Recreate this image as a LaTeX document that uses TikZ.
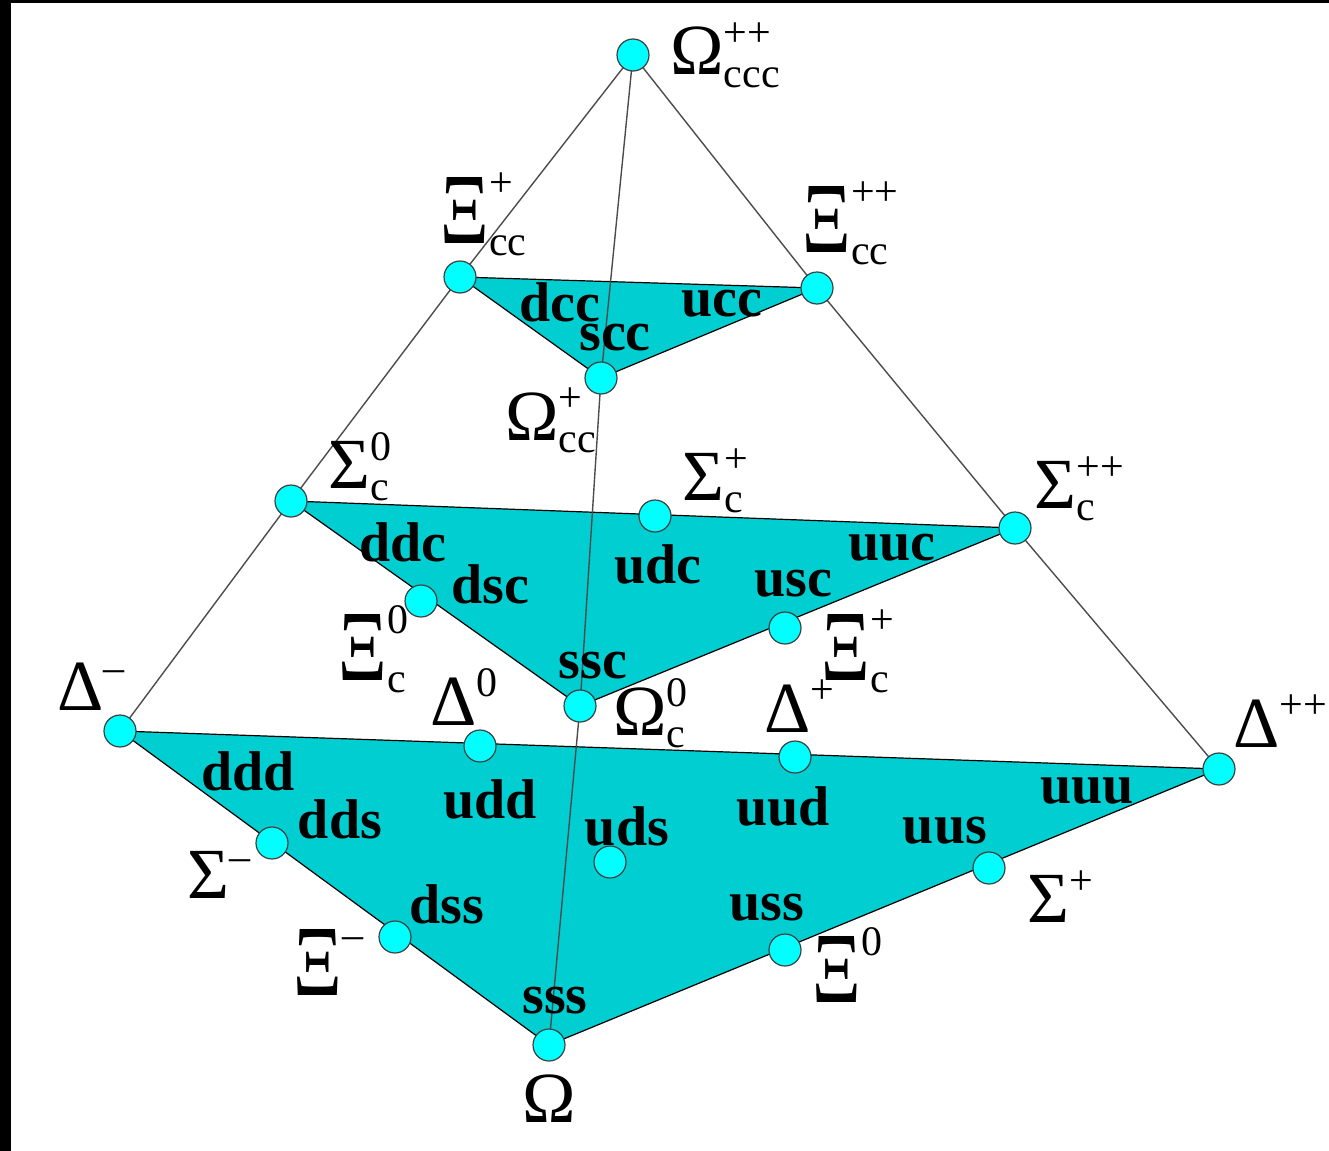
\documentclass[tikz,border=0pt]{standalone}
\usepackage{amsmath}
\usepackage{fontspec}
\setmainfont{Liberation Serif}
\usepackage{tikz}
\usetikzlibrary{backgrounds}

\definecolor{dotcyan}{RGB}{0,255,255}
\definecolor{layercyan}{RGB}{0,206,209}

\newcommand{\scfont}{\fontsize{21}{21}\selectfont}
\newcommand{\Xis}{\scalebox{1.05}[1.4]{Ξ}}
\newcommand{\hadron}[3]{$\text{#1}^{\text{\scfont #2}}_{\text{\scfont #3}}$}
\newcommand{\hsup}[2]{$\text{#1}^{\text{\scfont #2}}$}

\tikzset{
  baryon/.style={circle,draw=black!75,line width=0.6pt,fill=dotcyan,inner sep=0pt,minimum size=16pt},
  plabel/.style={anchor=base west,inner sep=0pt,font=\fontsize{36}{38}\selectfont},
  quark/.style={inner sep=0pt,font=\fontsize{28}{30}\selectfont\bfseries},
  layerfill/.style={fill=layercyan,draw=black,line width=0.6pt,line join=round},
  pyredge/.style={draw=black!70,line width=0.7pt}
}

\begin{document}
\begin{tikzpicture}[x=0.5pt,y=-0.5pt]
			\useasboundingbox (0,0) rectangle (1329,1151);
			% вершины
			\node[baryon] (Occc) at (633,55) {};
			\node[baryon] (Xccp) at (460,277) {};
			\node[baryon] (Xccpp) at (817,288) {};
			\node[baryon] (Occp) at (601,378) {};
			\node[baryon] (Sc0) at (291,501) {};
			\node[baryon] (Scp) at (655,516) {};
			\node[baryon] (Scpp) at (1015,528) {};
			\node[baryon] (Xc0) at (421,601) {};
			\node[baryon] (Xcp) at (785,628) {};
			\node[baryon] (Oc0) at (580,706) {};
			\node[baryon] (Dm) at (120,731) {};
			\node[baryon] (D0) at (480,746) {};
			\node[baryon] (Dp) at (795,757) {};
			\node[baryon] (Dpp) at (1219,769) {};
			\node[baryon] (Sm) at (272,843) {};
			\node[baryon] (L0) at (610,862) {};
			\node[baryon] (Sp) at (989,868) {};
			\node[baryon] (Xm) at (395,937) {};
			\node[baryon] (X0) at (785,950) {};
			\node[baryon] (Om) at (549,1045) {};
			% слои и рёбра
			\begin{pgfonlayer}{background}
				\fill[black] (0,0) rectangle (11,1151);
				\fill[black] (0,0) rectangle (1329,3);
				\draw[layerfill] (Xccp.center) -- (Xccpp.center) -- (Occp.center) -- cycle;
				\draw[layerfill] (Sc0.center) -- (Scpp.center) -- (Oc0.center) -- cycle;
				\draw[layerfill] (Dm.center) -- (Dpp.center) -- (Om.center) -- cycle;
				\draw[pyredge] (Occc.center) -- (Xccp.center) -- (Sc0.center) -- (Dm.center);
				\draw[pyredge] (Occc.center) -- (Xccpp.center) -- (Scpp.center) -- (Dpp.center);
				\draw[pyredge] (Occc.center) -- (Occp.center) -- (Oc0.center) -- (Om.center);
			\end{pgfonlayer}
			% подписи частиц
			\node[plabel] (lOccc) at (670,75) {\hadron{Ω}{++}{ccc}};
			\node[plabel] (lXccp) at (440,243) {\hadron{\Xis}{+}{cc}};
			\node[plabel] (lXccpp) at (802,252) {\hadron{\Xis}{++}{cc}};
			\node[plabel] (lOccp) at (505,440) {\hadron{Ω}{+}{cc}};
			\node[plabel] (lSc0) at (328,488) {\hadron{Σ}{0}{c}};
			\node[plabel] (lScp) at (682,500) {\hadron{Σ}{+}{c}};
			\node[plabel] (lScpp) at (1034,508) {\hadron{Σ}{++}{c}};
			\node[plabel] (lXc0) at (338,680) {\hadron{\Xis}{0}{c}};
			\node[plabel] (lXcp) at (821,680) {\hadron{\Xis}{+}{c}};
			\node[plabel] (lOc0) at (613,735) {\hadron{Ω}{0}{c}};
			\node[plabel] (lDm) at (57,710) {\hsup{Δ}{–}};
			\node[plabel] (lD0) at (430,725) {\hsup{Δ}{0}};
			\node[plabel] (lDp) at (764,732) {\hsup{Δ}{+}};
			\node[plabel] (lDpp) at (1233,747) {\hsup{Δ}{++}};
			\node[plabel] (lSm) at (187,898) {\hsup{Σ}{–}};
			\node[plabel] (lXm) at (293,995) {\hsup{\Xis}{–}};
			\node[plabel] (lOm) at (522,1122) {Ω};
			\node[plabel] (lSp) at (1027,922) {\hsup{Σ}{+}};
			\node[plabel] (lX0) at (812,1002) {\hsup{\Xis}{0}};
			% кварковый состав
			\node[quark] (qdcc) at (560,302) {dcc};
			\node[quark] (qucc) at (722,304) {ucc};
			\node[quark] (qscc) at (615,338) {scc};
			\node[quark] (qddc) at (403,542) {ddc};
			\node[quark] (qdsc) at (490,584) {dsc};
			\node[quark] (qudc) at (658,564) {udc};
			\node[quark] (quuc) at (892,548) {uuc};
			\node[quark] (qusc) at (793,584) {usc};
			\node[quark] (qssc) at (593,666) {ssc};
			\node[quark] (qddd) at (248,771) {ddd};
			\node[quark] (qdds) at (340,819) {dds};
			\node[quark] (qudd) at (490,799) {udd};
			\node[quark] (quds) at (627,826) {uds};
			\node[quark] (quud) at (783,806) {uud};
			\node[quark] (quuu) at (1087,791) {uuu};
			\node[quark] (quus) at (945,831) {uus};
			\node[quark] (qdss) at (447,904) {dss};
			\node[quark] (quss) at (767,908) {uss};
			\node[quark] (qsss) at (555,1001) {sss};
		\end{tikzpicture}
\end{document}
